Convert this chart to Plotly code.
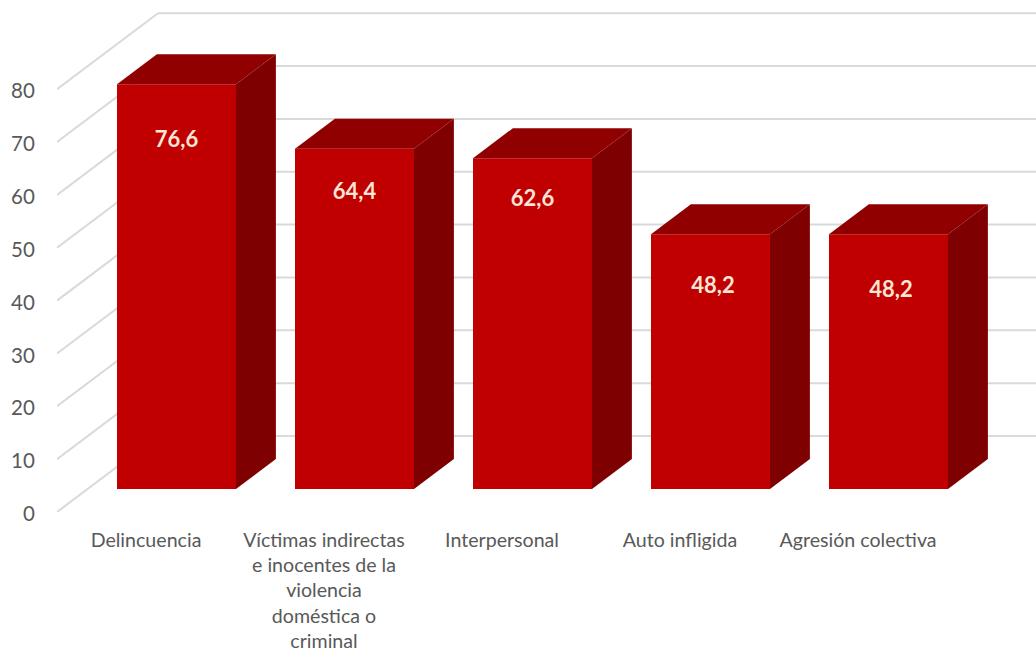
import plotly.graph_objects as go

categories = ["Delincuencia",
              "Víctimas indirectas<br>e inocentes de la<br>violencia<br>doméstica o<br>criminal",
              "Interpersonal", "Auto infligida", "Agresión colectiva"]
values = [76.6, 64.4, 62.6, 48.2, 48.2]
value_labels = ["76,6", "64,4", "62,6", "48,2", "48,2"]
y_ticks = [0, 10, 20, 30, 40, 50, 60, 70, 80]

# label distance below the bar top, in value units, and sideways nudge in axis units
label_drop = [10.75, 8.55, 8.05, 10.1, 10.85]
label_nudge = [0, 0, 0, 0.014, 0.014]

PX_X, PX_Y = 178.0, 5.285
W, H = 1036, 653
ML, MB = 57, 141
x_max = -0.5 + (W - ML) / PX_X
y_max = (H - MB) / PX_Y

DEPTH_X = 101 / PX_X      # whole floor depth, in axis units
DEPTH_Y = 76 / PX_Y
FRONT, BACK = 0.302, 0.697
SHIFT = FRONT * DEPTH_X
BASE = FRONT * DEPTH_Y
BAR_W = 119 / PX_X
BX = (BACK - FRONT) * DEPTH_X
BY = (BACK - FRONT) * DEPTH_Y

GRID = "#D9D9D9"
shapes = []
for t in y_ticks:
    shapes.append(dict(type="line", xref="x", yref="y", layer="below",
                       x0=-0.5, y0=t, x1=-0.5 + DEPTH_X, y1=t + DEPTH_Y,
                       line=dict(color=GRID, width=2)))
    shapes.append(dict(type="line", xref="x", yref="y", layer="below",
                       x0=-0.5 + DEPTH_X, y0=t + DEPTH_Y, x1=x_max, y1=t + DEPTH_Y,
                       line=dict(color=GRID, width=2)))

xs = list(range(len(values)))
fig = go.Figure()
fig.add_trace(go.Bar(x=[i + SHIFT for i in xs], y=values, base=BASE, width=BAR_W,
                     marker=dict(color="#C00000", line=dict(width=0)),
                     hoverinfo="skip", showlegend=False))

for i, v in zip(xs, values):
    l = i + SHIFT - BAR_W / 2
    r = i + SHIFT + BAR_W / 2
    top = BASE + v
    fig.add_trace(go.Scatter(
        x=[l, r, r + BX, l + BX, l], y=[top, top, top + BY, top + BY, top],
        mode="lines", fill="toself", fillcolor="#900000", line=dict(width=0),
        hoverinfo="skip", showlegend=False))
    fig.add_trace(go.Scatter(
        x=[r, r + BX, r + BX, r, r], y=[BASE, BASE + BY, top + BY, top, BASE],
        mode="lines", fill="toself", fillcolor="#7F0000", line=dict(width=0),
        hoverinfo="skip", showlegend=False))

fig.add_trace(go.Scatter(
    x=[i + SHIFT + n for i, n in zip(xs, label_nudge)],
    y=[BASE + v - d for v, d in zip(values, label_drop)],
    mode="text", text=value_labels, textposition="middle center",
    textfont=dict(family="Lato", size=22, color="#FBE5D6", weight="bold"),
    hoverinfo="skip", showlegend=False))

fig.update_layout(
    width=W, height=H, margin=dict(l=ML, r=0, t=0, b=MB, pad=0),
    paper_bgcolor="white", plot_bgcolor="white", shapes=shapes, showlegend=False,
    xaxis=dict(range=[-0.5, x_max], tickmode="array", tickvals=xs, ticktext=categories,
               automargin=False,
               showgrid=False, zeroline=False, showline=False, ticks="outside", ticklen=10,
               tickcolor="rgba(0,0,0,0)",
               tickangle=0, tickfont=dict(family="Lato", size=19.6, color="#595959")),
    yaxis=dict(range=[0, y_max], tickmode="array", tickvals=y_ticks,
               ticktext=[str(t) for t in y_ticks], automargin=False,
               showgrid=False, zeroline=False, showline=False, ticks="outside",
               ticklen=17, tickcolor="rgba(0,0,0,0)", ticklabelshift=2,
               tickfont=dict(family="Lato", size=20.5, color="#595959")),
)
fig.write_html("out.html", config=dict(displayModeBar=False),
               post_script="document.body.style.margin='0';")
